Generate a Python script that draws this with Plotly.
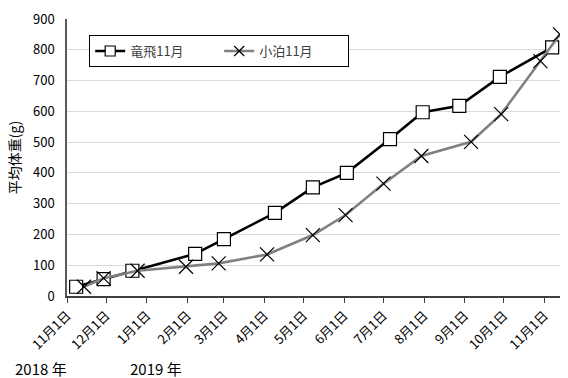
import plotly.graph_objects as go

# 竜飛11月 growth series (sampling date, mean body weight in g)
tappi_dates = ["2018-11-08", "2018-11-29", "2018-12-21", "2019-02-07", "2019-03-01",
               "2019-04-09", "2019-05-08", "2019-06-03", "2019-07-06", "2019-07-31",
               "2019-08-28", "2019-09-28", "2019-11-07"]
tappi_weight = [30, 55, 82, 137, 185, 270, 353, 400, 510, 597, 618, 712, 808]

# 小泊11月 growth series
kodomari_dates = ["2018-11-14", "2018-11-29", "2018-12-25", "2019-01-31", "2019-02-25",
                  "2019-04-03", "2019-05-08", "2019-06-02", "2019-07-01", "2019-07-30",
                  "2019-09-06", "2019-09-29", "2019-10-29", "2019-11-13"]
kodomari_weight = [30, 58, 82, 95, 106, 135, 198, 263, 365, 455, 501, 591, 763, 850]

tick_dates = ["2018-11-01", "2018-12-01", "2019-01-01", "2019-02-01", "2019-03-01",
              "2019-04-01", "2019-05-01", "2019-06-01", "2019-07-01", "2019-08-01",
              "2019-09-01", "2019-10-01", "2019-11-01"]
tick_labels = ["11月1日", "12月1日", "1月1日", "2月1日", "3月1日", "4月1日", "5月1日",
               "6月1日", "7月1日", "8月1日", "9月1日", "10月1日", "11月1日"]

JP = "Noto Sans CJK JP"

tappi_line = dict(color="black", width=2.6)
kodomari_line = dict(color="#808080", width=2.6)

fig = go.Figure()
fig.add_trace(go.Scatter(
    x=tappi_dates, y=tappi_weight, name="竜飛11月", mode="lines+markers",
    line=tappi_line, showlegend=False,
    marker=dict(symbol="square", size=13, color="white",
                line=dict(color="black", width=1.2)),
))
fig.add_trace(go.Scatter(
    x=kodomari_dates, y=kodomari_weight, name="小泊11月", mode="lines+markers",
    line=kodomari_line, showlegend=False,
    marker=dict(symbol="x-thin-open", size=14, color="black",
                line=dict(color="black", width=1.2)),
))

# legend entries with smaller symbols than the plotted markers
fig.add_trace(go.Scatter(
    x=[None], y=[None], name="竜飛11月", mode="lines+markers", line=tappi_line,
    marker=dict(symbol="square", size=10, color="white", line=dict(color="black", width=1.2)),
))
fig.add_trace(go.Scatter(
    x=[None], y=[None], name="小泊11月", mode="lines+markers", line=kodomari_line,
    marker=dict(symbol="x-thin-open", size=10, color="black", line=dict(color="black", width=1.2)),
))

fig.update_layout(
    width=568, height=378,
    margin=dict(l=67, r=8, t=19, b=82),
    paper_bgcolor="white", plot_bgcolor="white",
    font=dict(family=JP, size=12, color="#000000"),
    showlegend=True,
    legend=dict(
        orientation="h", x=0.045, y=0.942, xanchor="left", yanchor="top",
        bgcolor="white", bordercolor="black", borderwidth=1,
        font=dict(family=JP, size=13, color="#404040"),
        itemwidth=30, entrywidth=84,
    ),
    xaxis=dict(
        type="date", range=["2018-11-01", "2019-11-13"],
        tickvals=tick_dates, ticktext=tick_labels, tickangle=-45,
        ticks="outside", ticklen=5, tickcolor="#404040", tickwidth=1,
        showline=True, linecolor="#404040", linewidth=1.5,
        showgrid=False, zeroline=False,
        tickfont=dict(family=JP, size=13, color="#000000"),
    ),
    yaxis=dict(
        range=[0, 900], dtick=100, tick0=0,
        showline=True, linecolor="#595959", linewidth=1.5,
        showgrid=True, gridcolor="#d9d9d9", gridwidth=1,
        zeroline=False, ticks="", ticklabelstandoff=8,
        tickfont=dict(family=JP, size=13, color="#000000"),
        title=dict(text="平均体重(g)", font=dict(family=JP, size=14), standoff=9),
    ),
)

fig.add_annotation(text="2018 年", xref="paper", yref="paper", x=-0.11, y=-0.26,
                   xanchor="left", yanchor="middle", showarrow=False,
                   font=dict(family=JP, size=15, color="#000000"))
fig.add_annotation(text="2019 年", xref="paper", yref="paper", x=0.124, y=-0.26,
                   xanchor="left", yanchor="middle", showarrow=False,
                   font=dict(family=JP, size=15, color="#000000"))

fig.write_html("out.html")
